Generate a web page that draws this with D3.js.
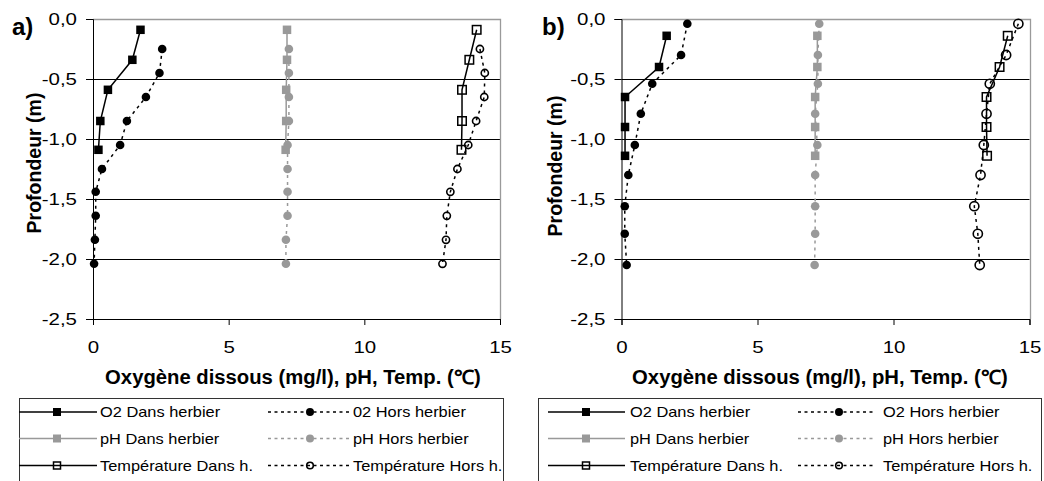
<!DOCTYPE html>
<html><head><meta charset="utf-8">
<script src="https://cdn.jsdelivr.net/npm/d3@7"></script>
<style>
body{margin:0;background:#fff}
svg{display:block}
text{font-family:"Liberation Sans",Arial,sans-serif;fill:#000}
</style>
</head><body>
<svg id="chart" width="1044" height="481"></svg>
<script>
// ---------------- DATA ----------------
const yTicks = [0, -0.5, -1, -1.5, -2, -2.5];
const xTicks = [0, 5, 10, 15];
const xTitle = "Oxygène dissous (mg/l), pH, Temp. (℃)";
const yTitle = "Profondeur (m)";

// Panel a
const aDepthIn  = [-0.09, -0.34, -0.59, -0.85, -1.09];
const aDepthOut = [-0.25, -0.45, -0.65, -0.85, -1.05, -1.25, -1.44, -1.64, -1.84, -2.04];
const aO2In   = [1.75, 1.45, 0.55, 0.27, 0.20];
const aO2Out  = [2.55, 2.45, 1.95, 1.25, 1.00, 0.33, 0.10, 0.10, 0.07, 0.04];
const aPhIn   = [7.15, 7.15, 7.12, 7.12, 7.10];
const aPhOut  = [7.22, 7.22, 7.22, 7.22, 7.17, 7.17, 7.17, 7.17, 7.11, 7.11];
const aTIn    = [14.14, 13.87, 13.60, 13.60, 13.58];
const aTOut   = [14.26, 14.44, 14.42, 14.12, 13.83, 13.43, 13.17, 13.04, 13.01, 12.88];
const aLegend = ["O2 Dans herbier", "02 Hors herbier", "pH Dans herbier", "pH Hors herbier", "Température Dans h.", "Température Hors h."];

// Panel b
const bDepthIn  = [-0.14, -0.40, -0.65, -0.90, -1.14];
const bDepthOut = [-0.04, -0.30, -0.54, -0.79, -1.05, -1.30, -1.56, -1.79, -2.05];
const bO2In   = [1.66, 1.38, 0.13, 0.13, 0.13];
const bO2Out  = [2.42, 2.19, 1.13, 0.71, 0.49, 0.25, 0.12, 0.12, 0.19];
const bPhIn   = [7.20, 7.20, 7.12, 7.12, 7.12];
const bPhOut  = [7.27, 7.22, 7.22, 7.12, 7.20, 7.12, 7.12, 7.12, 7.10];
const bTIn    = [14.20, 13.90, 13.42, 13.42, 13.44];
const bTOut   = [14.59, 14.14, 13.54, 13.42, 13.32, 13.20, 12.97, 13.10, 13.17];
const bLegend = ["O2 Dans herbier", "O2 Hors herbier", "pH Dans herbier", "pH Hors herbier", "Température Dans h.", "Température Hors h."];

// ---------------- STYLE / LAYOUT ----------------
const GRAY = "#999999";
const styles = [
  {color:"#000", dash:null,  marker:"square", fill:true},
  {color:"#000", dash:"3,4", marker:"circle", fill:true},
  {color:GRAY,  dash:null,  marker:"square", fill:true},
  {color:GRAY,  dash:"3,4", marker:"circle", fill:true},
  {color:"#000", dash:null,  marker:"square", fill:false},
  {color:"#000", dash:"3,4", marker:"circle", fill:false}
];

const panels = [
  {label:"a)", labelX:12, labelY:35,
   x0:93, x1:500, y0:19, y1:319, yTitleX:41, yTitleY:163, xTitleX:293, xTitleY:384,
   depthIn:aDepthIn, depthOut:aDepthOut,
   values:[aO2In, aO2Out, aPhIn, aPhOut, aTIn, aTOut], legend:aLegend, openR:3.6,
   lg:{x:19, y:398, w:484, c1:[19,97,57,100], c2:[268,350,310,353]}},
  {label:"b)", labelX:542, labelY:35,
   x0:621.5, x1:1029.5, y0:19, y1:319, yTitleX:562, yTitleY:166, xTitleX:820, xTitleY:384,
   depthIn:bDepthIn, depthOut:bDepthOut,
   values:[bO2In, bO2Out, bPhIn, bPhOut, bTIn, bTOut], legend:bLegend, openR:4.6,
   lg:{x:538, y:398, w:503, c1:[548,625,586,630], c2:[798,873,839,883]}}
];
const rowsY = [412, 438.5, 465.5];

const fmtY = d3.formatLocale({decimal:",", thousands:" ", grouping:[3], currency:["","€"], minus:"-"}).format(".1f");

function stretch(sel, sx){
  sel.each(function(){
    const t = d3.select(this);
    const x = +t.attr("x") || 0, y = +t.attr("y") || 0;
    t.attr("transform", `translate(${x},${y}) scale(${sx},1) translate(${-x},${-y})`);
  });
}

const svg = d3.select("#chart");

function drawMarker(g, type, fill, color, x, y, size, r){
  if (type === "square"){
    g.append("rect").attr("x", x - size/2).attr("y", y - size/2).attr("width", size).attr("height", size)
      .attr("fill", fill ? color : "none").attr("stroke", color).attr("stroke-width", fill ? 0 : 1.5);
  } else {
    g.append("circle").attr("cx", x).attr("cy", y).attr("r", r)
      .attr("fill", fill ? color : "none").attr("stroke", color).attr("stroke-width", fill ? 0 : 1.6);
  }
}

panels.forEach(p => {
  const g = svg.append("g");
  const x = d3.scaleLinear().domain([0, 15]).range([p.x0, p.x1]);
  const y = d3.scaleLinear().domain([-2.5, 0]).range([p.y1, p.y0]);

  // gridlines
  g.append("g").selectAll("line").data(yTicks.filter(v => v !== 0 && v !== -2.5)).join("line")
    .attr("x1", p.x0).attr("x2", p.x1).attr("y1", d => Math.round(y(d)) + 0.5).attr("y2", d => Math.round(y(d)) + 0.5)
    .attr("stroke", "#000").attr("stroke-width", 1);
  // plot border top / right
  g.append("path").attr("d", `M${p.x0},${p.y0 + 0.5}H${Math.round(p.x1) + 0.5}V${p.y1}`)
    .attr("fill", "none").attr("stroke", "#9a9a9a").attr("stroke-width", 1.3);

  // axes
  const yAxis = d3.axisLeft(y).tickValues(yTicks).tickFormat(fmtY).tickSize(7).tickPadding(9);
  const ya = g.append("g").attr("transform", `translate(${p.x0},0)`).call(yAxis);
  ya.select(".domain").attr("stroke", "#000");
  ya.selectAll(".tick line").attr("stroke", "#000");
  ya.selectAll("text").attr("font-size", 16).attr("font-family", "Liberation Sans, Arial, sans-serif").attr("fill", "#000");
  stretch(ya.selectAll("text"), 1.28);

  const xAxis = d3.axisBottom(x).tickValues(xTicks).tickFormat(d3.format("d")).tickSize(6).tickPadding(17);
  const xa = g.append("g").attr("transform", `translate(0,${p.y1})`).call(xAxis);
  xa.select(".domain").attr("stroke", "#000");
  xa.selectAll(".tick line").attr("stroke", "#000");
  xa.selectAll("text").attr("font-size", 16).attr("font-family", "Liberation Sans, Arial, sans-serif").attr("fill", "#000");
  stretch(xa.selectAll("text"), 1.28);

  // titles
  const xt = g.append("text").attr("x", p.xTitleX).attr("y", p.xTitleY).attr("text-anchor", "middle")
    .attr("font-size", 19.5).attr("font-weight", "bold").text(xTitle);
  stretch(xt, 1.04);
  g.append("text").attr("transform", `translate(${p.yTitleX},${p.yTitleY}) rotate(-90)`).attr("text-anchor", "middle")
    .attr("font-size", 19.5).attr("font-weight", "bold").text(yTitle);
  g.append("text").attr("x", p.labelX).attr("y", p.labelY).attr("font-size", 24).attr("font-weight", "bold").text(p.label);

  // series
  const line = d3.line().x(d => x(d[0])).y(d => y(d[1]));
  p.values.forEach((vals, i) => {
    const st = styles[i];
    const depths = (i % 2 === 0) ? p.depthIn : p.depthOut;
    const pts = vals.map((v, k) => [v, depths[k]]);
    const sg = g.append("g");
    sg.append("path").attr("d", line(pts)).attr("fill", "none").attr("stroke", st.color)
      .attr("stroke-width", 1.5).attr("stroke-dasharray", st.dash);
    pts.forEach(d => {
      if (st.marker === "square") drawMarker(sg, "square", st.fill, st.color, x(d[0]), y(d[1]), 8.5, 0);
      else drawMarker(sg, "circle", st.fill, st.color, x(d[0]), y(d[1]), 0, st.fill ? 4.3 : p.openR);
    });
  });

  // legend
  const L = p.lg;
  const lg = g.append("g");
  lg.append("rect").attr("x", L.x + 0.5).attr("y", L.y + 0.5).attr("width", L.w).attr("height", 100)
    .attr("fill", "#fff").attr("stroke", "#333").attr("stroke-width", 1);
  p.legend.forEach((lab, i) => {
    const st = styles[i];
    const col = (i % 2 === 0) ? L.c1 : L.c2;
    const ry = rowsY[Math.floor(i / 2)];
    lg.append("line").attr("x1", col[0]).attr("x2", col[1]).attr("y1", ry).attr("y2", ry)
      .attr("stroke", st.color).attr("stroke-width", 1.5).attr("stroke-dasharray", st.dash ? "3,3.5" : null);
    if (st.marker === "square") drawMarker(lg, "square", st.fill, st.color, col[2], ry, st.fill ? 8 : 7, 0);
    else drawMarker(lg, "circle", st.fill, st.color, col[2], ry, 0, st.fill ? 4 : 3.3);
    const t = lg.append("text").attr("x", col[3]).attr("y", ry).attr("dy", "0.35em")
      .attr("font-size", 14.5).text(lab);
    stretch(t, 1.13);
  });
});
</script>
</body></html>
